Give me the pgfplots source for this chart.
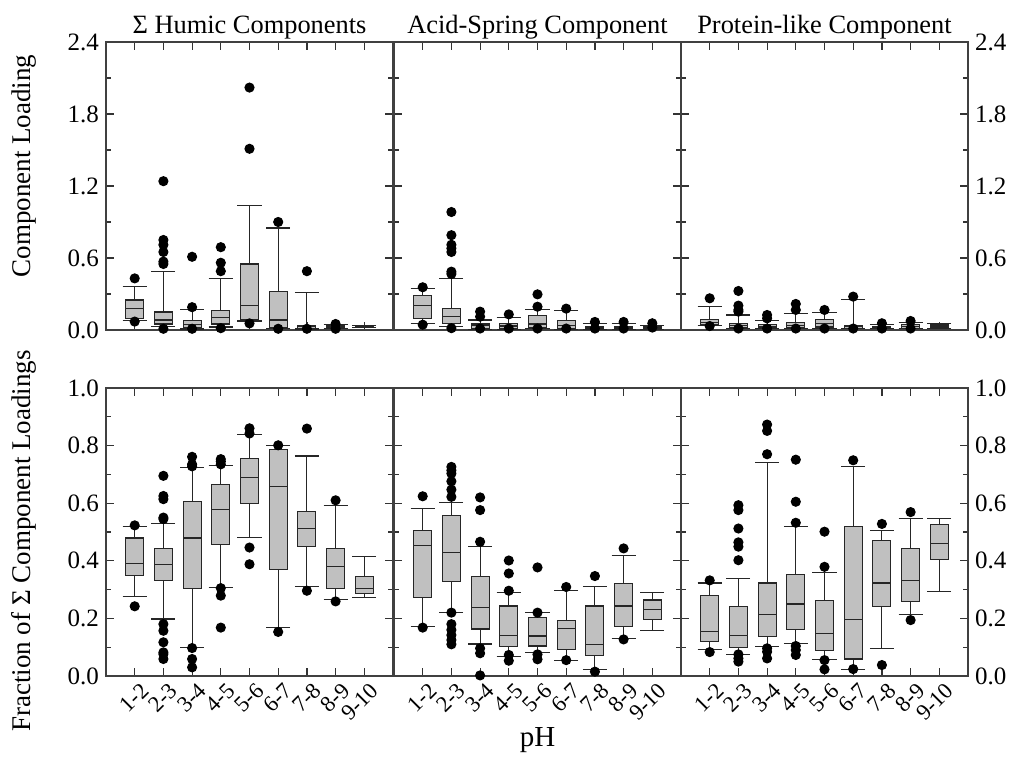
\documentclass[border=0pt]{standalone}
\usepackage{fontspec}
\setmainfont{Liberation Serif}
\usepackage{pgfplots}
\pgfplotsset{compat=1.18}
\usepgfplotslibrary{statistics}
\definecolor{boxgray}{RGB}{192,192,192}
\pgfplotsset{
  panel/.style={scale only axis, width=143.5pt, height=144pt,
    xmin=0, xmax=10, xtick={1,2,3,4,5,6,7,8,9}, clip=false,
    tick align=inside, major tick length=4pt, minor tick length=2.5pt,
    axis line style={black!75, line width=0.6pt},
    every tick/.style={black!80, line width=0.6pt},
    tick label style={font=\fontsize{12.5}{14}\selectfont},
    /pgf/number format/assume math mode=true,
    yticklabel style={/pgf/number format/.cd, fixed, fixed zerofill, precision=1},
    title style={font=\fontsize{13.2}{15}\selectfont, yshift=-8pt},
    ylabel style={font=\fontsize{13.5}{15}\selectfont},
    xlabel style={font=\fontsize{14.5}{16}\selectfont},
  },
  toprow/.style={ymin=0, ymax=2.4, ytick={0,0.6,1.2,1.8,2.4}, minor ytick={0.3,0.9,1.5,2.1}, xticklabels={}},
  botrow/.style={ymin=0, ymax=1, ytick={0,0.2,0.4,0.6,0.8,1.0}, minor ytick={0.1,0.3,0.5,0.7,0.9},
    xticklabels={1-2,2-3,3-4,4-5,5-6,6-7,7-8,8-9,9-10},
    xticklabel style={rotate=45, anchor=north east, inner sep=1pt, yshift=-2.5pt, xshift=1pt, font=\fontsize{11.3}{13}\selectfont}},
  bx/.style={solid, draw=black!85, line width=0.55pt, fill=boxgray, mark=*, mark size=2.25pt,
    mark options={fill=black, draw=black, solid}, boxplot/draw direction=y,
    boxplot/box extend=0.63, boxplot/whisker extend=0.84},
}
\begin{document}
\begin{tikzpicture}
\path[use as bounding box] (0,0) rectangle (509pt,379pt);
% ---------------- top left
\begin{axis}[panel, toprow, at={(53pt,358pt)}, anchor=north west, title={Σ Humic Components}, ylabel={Component Loading},
  ylabel style={yshift=9pt, xshift=10pt}]
\addplot[bx, boxplot prepared={draw position=1, lower whisker=0.08, lower quartile=0.094, median=0.18, upper quartile=0.25, upper whisker=0.36}] coordinates {(0,0.43) (0,0.07)};
\addplot[bx, boxplot prepared={draw position=2, lower whisker=0.028, lower quartile=0.05, median=0.083, upper quartile=0.15, upper whisker=0.49}] coordinates {(0,1.24) (0,0.75) (0,0.71) (0,0.65) (0,0.57) (0,0.55) (0,0.01)};
\addplot[bx, boxplot prepared={draw position=3, lower whisker=0.008, lower quartile=0.022, median=0.044, upper quartile=0.078, upper whisker=0.17}] coordinates {(0,0.61) (0,0.19) (0,0.01)};
\addplot[bx, boxplot prepared={draw position=4, lower whisker=0.025, lower quartile=0.05, median=0.105, upper quartile=0.16, upper whisker=0.43}] coordinates {(0,0.69) (0,0.56) (0,0.49) (0,0.015)};
\addplot[bx, boxplot prepared={draw position=5, lower whisker=0.075, lower quartile=0.09, median=0.205, upper quartile=0.55, upper whisker=1.04}] coordinates {(0,2.02) (0,1.51) (0,0.055)};
\addplot[bx, boxplot prepared={draw position=6, lower whisker=0.01, lower quartile=0.02, median=0.083, upper quartile=0.32, upper whisker=0.85}] coordinates {(0,0.90) (0,0.01)};
\addplot[bx, boxplot prepared={draw position=7, lower whisker=0.008, lower quartile=0.014, median=0.028, upper quartile=0.04, upper whisker=0.31}] coordinates {(0,0.49) (0,0.01)};
\addplot[bx, boxplot prepared={draw position=8, lower whisker=0.01, lower quartile=0.02, median=0.033, upper quartile=0.045, upper whisker=0.045}] coordinates {(0,0.05) (0,0.01)};
\addplot[bx, boxplot prepared={draw position=9, lower whisker=0.018, lower quartile=0.02, median=0.025, upper quartile=0.03, upper whisker=0.036}] coordinates {};
\end{axis}
% ---------------- top middle
\begin{axis}[panel, toprow, at={(197pt,358pt)}, anchor=north west, title={Acid-Spring Component}, yticklabels={}]
\addplot[bx, boxplot prepared={draw position=1, lower whisker=0.053, lower quartile=0.092, median=0.206, upper quartile=0.286, upper whisker=0.344}] coordinates {(0,0.356) (0,0.044)};
\addplot[bx, boxplot prepared={draw position=2, lower whisker=0.03, lower quartile=0.056, median=0.111, upper quartile=0.18, upper whisker=0.43}] coordinates {(0,0.983) (0,0.79) (0,0.71) (0,0.68) (0,0.65) (0,0.486) (0,0.467) (0,0.015)};
\addplot[bx, boxplot prepared={draw position=3, lower whisker=0.006, lower quartile=0.014, median=0.036, upper quartile=0.05, upper whisker=0.083}] coordinates {(0,0.153) (0,0.111) (0,0.012)};
\addplot[bx, boxplot prepared={draw position=4, lower whisker=0.006, lower quartile=0.014, median=0.033, upper quartile=0.056, upper whisker=0.103}] coordinates {(0,0.13) (0,0.012)};
\addplot[bx, boxplot prepared={draw position=5, lower whisker=0.01, lower quartile=0.02, median=0.05, upper quartile=0.122, upper whisker=0.172}] coordinates {(0,0.297) (0,0.194) (0,0.012)};
\addplot[bx, boxplot prepared={draw position=6, lower whisker=0.006, lower quartile=0.014, median=0.036, upper quartile=0.08, upper whisker=0.164}] coordinates {(0,0.178) (0,0.012)};
\addplot[bx, boxplot prepared={draw position=7, lower whisker=0.006, lower quartile=0.008, median=0.019, upper quartile=0.028, upper whisker=0.056}] coordinates {(0,0.067) (0,0.012)};
\addplot[bx, boxplot prepared={draw position=8, lower whisker=0.006, lower quartile=0.008, median=0.019, upper quartile=0.028, upper whisker=0.056}] coordinates {(0,0.067) (0,0.012)};
\addplot[bx, boxplot prepared={draw position=9, lower whisker=0.006, lower quartile=0.014, median=0.022, upper quartile=0.031, upper whisker=0.04}] coordinates {(0,0.056) (0,0.02)};
\end{axis}
% ---------------- top right
\begin{axis}[panel, toprow, at={(340.5pt,358pt)}, anchor=north west, title={Protein-like Component}, yticklabel pos=right]
\addplot[bx, boxplot prepared={draw position=1, lower whisker=0.039, lower quartile=0.044, median=0.064, upper quartile=0.086, upper whisker=0.197}] coordinates {(0,0.264) (0,0.033)};
\addplot[bx, boxplot prepared={draw position=2, lower whisker=0.012, lower quartile=0.022, median=0.039, upper quartile=0.056, upper whisker=0.125}] coordinates {(0,0.325) (0,0.203) (0,0.167) (0,0.153) (0,0.012)};
\addplot[bx, boxplot prepared={draw position=3, lower whisker=0.01, lower quartile=0.017, median=0.03, upper quartile=0.044, upper whisker=0.08}] coordinates {(0,0.125) (0,0.097) (0,0.012)};
\addplot[bx, boxplot prepared={draw position=4, lower whisker=0.01, lower quartile=0.02, median=0.039, upper quartile=0.061, upper whisker=0.139}] coordinates {(0,0.217) (0,0.167) (0,0.012)};
\addplot[bx, boxplot prepared={draw position=5, lower whisker=0.012, lower quartile=0.025, median=0.056, upper quartile=0.089, upper whisker=0.147}] coordinates {(0,0.167) (0,0.012)};
\addplot[bx, boxplot prepared={draw position=6, lower whisker=0.01, lower quartile=0.014, median=0.028, upper quartile=0.039, upper whisker=0.253}] coordinates {(0,0.278) (0,0.012)};
\addplot[bx, boxplot prepared={draw position=7, lower whisker=0.01, lower quartile=0.014, median=0.019, upper quartile=0.028, upper whisker=0.044}] coordinates {(0,0.056) (0,0.012)};
\addplot[bx, boxplot prepared={draw position=8, lower whisker=0.01, lower quartile=0.014, median=0.028, upper quartile=0.042, upper whisker=0.064}] coordinates {(0,0.075) (0,0.012)};
\addplot[bx, boxplot prepared={draw position=9, lower whisker=0.014, lower quartile=0.02, median=0.033, upper quartile=0.05, upper whisker=0.056}] coordinates {};
\end{axis}
% ---------------- bottom left
\begin{axis}[panel, botrow, at={(53pt,185pt)}, anchor=north west, ylabel={Fraction of Σ Component Loadings},
  ylabel style={yshift=9pt, xshift=-4.5pt}]
\addplot[bx, boxplot prepared={draw position=1, lower whisker=0.275, lower quartile=0.35, median=0.392, upper quartile=0.479, upper whisker=0.518}] coordinates {(0,0.523) (0,0.242)};
\addplot[bx, boxplot prepared={draw position=2, lower whisker=0.198, lower quartile=0.333, median=0.388, upper quartile=0.443, upper whisker=0.531}] coordinates {(0,0.695) (0,0.625) (0,0.614) (0,0.55) (0,0.545) (0,0.18) (0,0.157) (0,0.117) (0,0.082) (0,0.076) (0,0.059)};
\addplot[bx, boxplot prepared={draw position=3, lower whisker=0.098, lower quartile=0.304, median=0.479, upper quartile=0.607, upper whisker=0.725}] coordinates {(0,0.761) (0,0.735) (0,0.728) (0,0.097) (0,0.059) (0,0.03)};
\addplot[bx, boxplot prepared={draw position=4, lower whisker=0.307, lower quartile=0.455, median=0.578, upper quartile=0.665, upper whisker=0.732}] coordinates {(0,0.753) (0,0.745) (0,0.735) (0,0.305) (0,0.279) (0,0.168)};
\addplot[bx, boxplot prepared={draw position=5, lower whisker=0.481, lower quartile=0.6, median=0.689, upper quartile=0.754, upper whisker=0.839}] coordinates {(0,0.86) (0,0.842) (0,0.446) (0,0.388)};
\addplot[bx, boxplot prepared={draw position=6, lower whisker=0.168, lower quartile=0.369, median=0.657, upper quartile=0.785, upper whisker=0.799}] coordinates {(0,0.801) (0,0.153)};
\addplot[bx, boxplot prepared={draw position=7, lower whisker=0.31, lower quartile=0.451, median=0.512, upper quartile=0.571, upper whisker=0.764}] coordinates {(0,0.859) (0,0.296)};
\addplot[bx, boxplot prepared={draw position=8, lower whisker=0.267, lower quartile=0.304, median=0.379, upper quartile=0.443, upper whisker=0.592}] coordinates {(0,0.61) (0,0.259)};
\addplot[bx, boxplot prepared={draw position=9, lower whisker=0.273, lower quartile=0.287, median=0.305, upper quartile=0.345, upper whisker=0.416}] coordinates {};
\end{axis}
% ---------------- bottom middle
\begin{axis}[panel, botrow, at={(197pt,185pt)}, anchor=north west, yticklabels={}, xlabel={pH},
  xlabel style={at={(axis description cs:0.5,0)}, anchor=center, yshift=-32pt}]
\addplot[bx, boxplot prepared={draw position=1, lower whisker=0.173, lower quartile=0.273, median=0.454, upper quartile=0.505, upper whisker=0.583}] coordinates {(0,0.624) (0,0.168)};
\addplot[bx, boxplot prepared={draw position=2, lower whisker=0.22, lower quartile=0.329, median=0.428, upper quartile=0.557, upper whisker=0.601}] coordinates {(0,0.726) (0,0.714) (0,0.703) (0,0.676) (0,0.647) (0,0.622) (0,0.22) (0,0.18) (0,0.16) (0,0.142) (0,0.125) (0,0.11)};
\addplot[bx, boxplot prepared={draw position=3, lower whisker=0.111, lower quartile=0.163, median=0.239, upper quartile=0.345, upper whisker=0.449}] coordinates {(0,0.62) (0,0.576) (0,0.466) (0,0.096) (0,0.079) (0,0.002)};
\addplot[bx, boxplot prepared={draw position=4, lower whisker=0.069, lower quartile=0.103, median=0.141, upper quartile=0.243, upper whisker=0.289}] coordinates {(0,0.401) (0,0.356) (0,0.296) (0,0.073) (0,0.053)};
\addplot[bx, boxplot prepared={draw position=5, lower whisker=0.081, lower quartile=0.104, median=0.139, upper quartile=0.203, upper whisker=0.22}] coordinates {(0,0.377) (0,0.22) (0,0.075) (0,0.058)};
\addplot[bx, boxplot prepared={draw position=6, lower whisker=0.055, lower quartile=0.092, median=0.165, upper quartile=0.192, upper whisker=0.296}] coordinates {(0,0.309) (0,0.055)};
\addplot[bx, boxplot prepared={draw position=7, lower whisker=0.024, lower quartile=0.072, median=0.11, upper quartile=0.243, upper whisker=0.31}] coordinates {(0,0.347) (0,0.015)};
\addplot[bx, boxplot prepared={draw position=8, lower whisker=0.131, lower quartile=0.171, median=0.243, upper quartile=0.32, upper whisker=0.417}] coordinates {(0,0.443) (0,0.127)};
\addplot[bx, boxplot prepared={draw position=9, lower whisker=0.158, lower quartile=0.197, median=0.231, upper quartile=0.264, upper whisker=0.29}] coordinates {};
\end{axis}
% ---------------- bottom right
\begin{axis}[panel, botrow, at={(340.5pt,185pt)}, anchor=north west, yticklabel pos=right]
\addplot[bx, boxplot prepared={draw position=1, lower whisker=0.092, lower quartile=0.12, median=0.156, upper quartile=0.28, upper whisker=0.323}] coordinates {(0,0.332) (0,0.083)};
\addplot[bx, boxplot prepared={draw position=2, lower whisker=0.075, lower quartile=0.099, median=0.141, upper quartile=0.24, upper whisker=0.339}] coordinates {(0,0.593) (0,0.576) (0,0.512) (0,0.464) (0,0.449) (0,0.402) (0,0.075) (0,0.061) (0,0.05)};
\addplot[bx, boxplot prepared={draw position=3, lower whisker=0.102, lower quartile=0.138, median=0.215, upper quartile=0.323, upper whisker=0.742}] coordinates {(0,0.873) (0,0.851) (0,0.77) (0,0.096) (0,0.084) (0,0.061)};
\addplot[bx, boxplot prepared={draw position=4, lower whisker=0.112, lower quartile=0.16, median=0.25, upper quartile=0.353, upper whisker=0.52}] coordinates {(0,0.751) (0,0.605) (0,0.532) (0,0.104) (0,0.09) (0,0.073)};
\addplot[bx, boxplot prepared={draw position=5, lower whisker=0.058, lower quartile=0.088, median=0.148, upper quartile=0.261, upper whisker=0.36}] coordinates {(0,0.501) (0,0.379) (0,0.055) (0,0.023)};
\addplot[bx, boxplot prepared={draw position=6, lower whisker=0.024, lower quartile=0.059, median=0.195, upper quartile=0.519, upper whisker=0.728}] coordinates {(0,0.749) (0,0.024)};
\addplot[bx, boxplot prepared={draw position=7, lower whisker=0.096, lower quartile=0.24, median=0.323, upper quartile=0.47, upper whisker=0.505}] coordinates {(0,0.528) (0,0.038)};
\addplot[bx, boxplot prepared={draw position=8, lower whisker=0.215, lower quartile=0.259, median=0.333, upper quartile=0.443, upper whisker=0.546}] coordinates {(0,0.569) (0,0.194)};
\addplot[bx, boxplot prepared={draw position=9, lower whisker=0.292, lower quartile=0.405, median=0.46, upper quartile=0.526, upper whisker=0.546}] coordinates {};
\end{axis}
\end{tikzpicture}
\end{document}
